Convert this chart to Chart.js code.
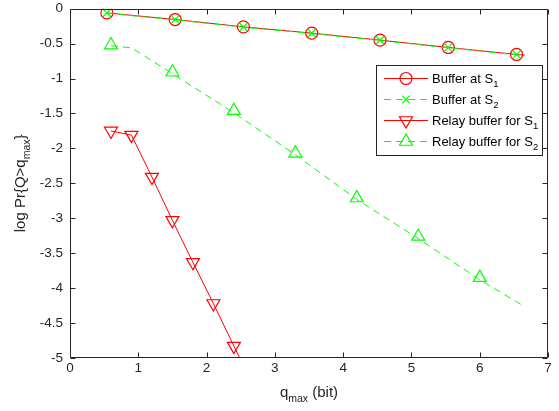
<!DOCTYPE html>
<html>
<head>
<meta charset="utf-8">
<script src="https://cdn.jsdelivr.net/npm/chart.js@4.4.1/dist/chart.umd.min.js"></script>
<style>
  html, body { margin: 0; padding: 0; background: #fff; }
</style>
</head>
<body>
<canvas id="chart" width="559" height="411"></canvas>
<script>
// ---- data ----
const xTicks = [0, 1, 2, 3, 4, 5, 6, 7];
const yTicks = [0, -0.5, -1, -1.5, -2, -2.5, -3, -3.5, -4, -4.5, -5];

// buffer at S1 (red, circles)
const bufS1LineX = [0.54, 1.54, 2.54, 3.54, 4.54, 5.54, 6.54, 6.66];
const bufS1LineY = [-0.06, -0.155, -0.26, -0.35, -0.45, -0.555, -0.655, -0.665];
const bufS1MarkX = [0.54, 1.54, 2.54, 3.54, 4.54, 5.54, 6.54];
const bufS1MarkY = [-0.06, -0.155, -0.26, -0.35, -0.45, -0.555, -0.655];

// buffer at S2 (green dashed, crosses)
const bufS2LineX = [0.54, 1.54, 2.54, 3.54, 4.54, 5.54, 6.54, 6.66];
const bufS2LineY = [-0.065, -0.16, -0.265, -0.355, -0.455, -0.56, -0.66, -0.67];
const bufS2MarkX = [0.54, 1.54, 2.54, 3.54, 4.54, 5.54, 6.54];
const bufS2MarkY = [-0.06, -0.155, -0.26, -0.35, -0.45, -0.555, -0.655];

// relay buffer for S1 (red, down triangles)
const relS1LineX = [0.6, 0.9, 1.2, 1.5, 1.8, 2.1, 2.4, 2.5];
const relS1LineY = [-1.75, -1.81, -2.41, -3.03, -3.63, -4.22, -4.83, -5.03];
const relS1MarkX = [0.6, 0.9, 1.2, 1.5, 1.8, 2.1, 2.4];
const relS1MarkY = [-1.75, -1.81, -2.41, -3.03, -3.63, -4.22, -4.83];

// relay buffer for S2 (green dashed, up triangles)
const relS2LineX = [0.6, 0.9, 1.5, 2.4, 3.3, 4.2, 5.1, 6.0, 6.6];
const relS2LineY = [-0.53, -0.56, -0.93, -1.49, -2.09, -2.73, -3.29, -3.88, -4.23];
const relS2MarkX = [0.6, 1.5, 2.4, 3.3, 4.2, 5.1, 6.0];
const relS2MarkY = [-0.52, -0.91, -1.46, -2.07, -2.71, -3.26, -3.85];

const RED = '#ff0000';
const GREEN = '#00ff00';
const INK = '#262626';
const FONT = '"Liberation Sans", Arial, Helvetica, sans-serif';
const DASH = [7, 5];

function pts(xs, ys) {
  return xs.map((x, i) => ({ x: x, y: ys[i] }));
}

function lineSet(xs, ys, color, dash, order) {
  return {
    data: pts(xs, ys),
    borderColor: color,
    borderWidth: 1,
    borderDash: dash,
    pointRadius: 0,
    fill: false,
    tension: 0,
    order: order
  };
}

function markSet(xs, ys, color, style, radius, rotation, order) {
  return {
    data: pts(xs, ys),
    showLine: false,
    borderColor: color,
    backgroundColor: 'rgba(0,0,0,0)',
    pointStyle: style,
    pointRadius: radius,
    pointRotation: rotation,
    pointBorderWidth: 1.2,
    order: order
  };
}

// box round the plot with inward ticks on all four sides
const boxPlugin = {
  id: 'box',
  afterDraw(chart) {
    const ctx = chart.ctx;
    const a = chart.chartArea;
    const xs = chart.scales.x, ys = chart.scales.y;
    const L = Math.round(a.left) + 0.5, R = Math.round(a.right) - 0.5;
    const T = Math.round(a.top) + 0.5, B = Math.round(a.bottom) - 0.5;
    ctx.save();
    ctx.strokeStyle = INK;
    ctx.lineWidth = 1;
    ctx.beginPath();
    ctx.rect(L, T, R - L, B - T);
    xTicks.forEach(v => {
      const p = Math.round(xs.getPixelForValue(v)) + 0.5;
      ctx.moveTo(p, B); ctx.lineTo(p, B - 5);
      ctx.moveTo(p, T); ctx.lineTo(p, T + 5);
    });
    yTicks.forEach(v => {
      const p = Math.round(ys.getPixelForValue(v)) + 0.5;
      ctx.moveTo(L, p); ctx.lineTo(L + 5, p);
      ctx.moveTo(R, p); ctx.lineTo(R - 5, p);
    });
    ctx.stroke();
    ctx.restore();
  }
};

// draw text with a subscript part, returns width
function subText(ctx, parts, x, y, size, subSize, drop, measureOnly) {
  let w = 0;
  parts.forEach(p => {
    ctx.font = (p.sub ? subSize : size) + 'px ' + FONT;
    if (!measureOnly) ctx.fillText(p.t, x + w, y + (p.sub ? drop : 0));
    w += ctx.measureText(p.t).width;
  });
  return w;
}

const titlePlugin = {
  id: 'titles',
  afterDraw(chart) {
    const ctx = chart.ctx;
    const a = chart.chartArea;
    ctx.save();
    ctx.fillStyle = INK;
    ctx.textBaseline = 'alphabetic';
    ctx.textAlign = 'left';
    const xt = [{ t: 'q' }, { t: 'max', sub: true }, { t: ' (bit)' }];
    const xw = subText(ctx, xt, 0, 0, 15, 10.5, 4.5, true);
    subText(ctx, xt, (a.left + a.right) / 2 - xw / 2, 397, 15, 10.5, 4.5);
    const yt = [{ t: 'log Pr{Q>q' }, { t: 'max', sub: true }, { t: '}' }];
    const yw = subText(ctx, yt, 0, 0, 15, 10.5, 4.5, true);
    ctx.translate(25, (a.top + a.bottom) / 2);
    ctx.rotate(-Math.PI / 2);
    subText(ctx, yt, -yw / 2, 0, 15, 10.5, 4.5);
    ctx.restore();
  }
};

function drawMarker(ctx, kind, x, y) {
  ctx.beginPath();
  if (kind === 'circle') {
    ctx.arc(x, y, 6, 0, Math.PI * 2);
  } else if (kind === 'cross') {
    const d = 3.9;
    ctx.moveTo(x - d, y - d); ctx.lineTo(x + d, y + d);
    ctx.moveTo(x + d, y - d); ctx.lineTo(x - d, y + d);
  } else if (kind === 'down') {
    const r = 7.5;
    ctx.moveTo(x, y + r);
    ctx.lineTo(x - r * 0.866, y - r / 2);
    ctx.lineTo(x + r * 0.866, y - r / 2);
    ctx.closePath();
  } else {
    const r = 7.5;
    ctx.moveTo(x, y - r);
    ctx.lineTo(x - r * 0.866, y + r / 2);
    ctx.lineTo(x + r * 0.866, y + r / 2);
    ctx.closePath();
  }
  ctx.stroke();
}

const legendItems = [
  { label: 'Buffer at S', sub: '1', color: RED, dash: [], marker: 'circle' },
  { label: 'Buffer at S', sub: '2', color: GREEN, dash: DASH, marker: 'cross' },
  { label: 'Relay buffer for S', sub: '1', color: RED, dash: [], marker: 'down' },
  { label: 'Relay buffer for S', sub: '2', color: GREEN, dash: DASH, marker: 'up' }
];

const legendPlugin = {
  id: 'boxLegend',
  afterDraw(chart) {
    const ctx = chart.ctx;
    ctx.save();
    ctx.fillStyle = '#fff';
    ctx.fillRect(376, 65, 166, 90);
    ctx.strokeStyle = INK;
    ctx.lineWidth = 1;
    ctx.strokeRect(376.5, 65.5, 166, 90);
    legendItems.forEach((it, i) => {
      const y = 78 + i * 21;
      ctx.strokeStyle = it.color;
      ctx.lineWidth = 1;
      ctx.setLineDash(it.dash);
      ctx.beginPath();
      ctx.moveTo(384, y + 0.5); ctx.lineTo(428, y + 0.5);
      ctx.stroke();
      ctx.setLineDash([]);
      ctx.lineWidth = 1.2;
      drawMarker(ctx, it.marker, 406, y + 0.5);
      ctx.fillStyle = '#000';
      ctx.textBaseline = 'alphabetic';
      ctx.textAlign = 'left';
      subText(ctx, [{ t: it.label }, { t: it.sub, sub: true }], 432, y + 4.5, 13, 9.5, 4);
    });
    ctx.restore();
  }
};

new Chart(document.getElementById('chart'), {
  type: 'line',
  data: {
    datasets: [
      lineSet(bufS1LineX, bufS1LineY, RED, [], 3),
      markSet(bufS1MarkX, bufS1MarkY, RED, 'circle', 6, 0, 3),
      lineSet(bufS2LineX, bufS2LineY, GREEN, DASH, 1),
      markSet(bufS2MarkX, bufS2MarkY, GREEN, 'crossRot', 5.5, 0, 1),
      lineSet(relS1LineX, relS1LineY, RED, [], 3),
      markSet(relS1MarkX, relS1MarkY, RED, 'triangle', 7.5, 180, 3),
      lineSet(relS2LineX, relS2LineY, GREEN, DASH, 1),
      markSet(relS2MarkX, relS2MarkY, GREEN, 'triangle', 7.5, 0, 1)
    ]
  },
  options: {
    responsive: false,
    animation: false,
    layout: { padding: { top: 6, right: 11, left: 0, bottom: 0 } },
    plugins: {
      legend: { display: false },
      tooltip: { enabled: false }
    },
    scales: {
      x: {
        type: 'linear',
        min: 0, max: 7,
        afterBuildTicks: s => { s.ticks = xTicks.map(v => ({ value: v })); },
        afterFit: s => { s.height = 53; s.paddingLeft = 0; s.paddingRight = 0; },
        grid: { display: false, drawTicks: false },
        border: { display: false },
        ticks: { color: INK, font: { family: FONT, size: 13.5 }, padding: 2, callback: v => String(v) }
      },
      y: {
        type: 'linear',
        min: -5, max: 0,
        afterBuildTicks: s => { s.ticks = yTicks.map(v => ({ value: v })); },
        afterFit: s => { s.width = 70; s.paddingTop = 0; s.paddingBottom = 0; },
        grid: { display: false, drawTicks: false },
        border: { display: false },
        ticks: { color: INK, font: { family: FONT, size: 13.5 }, padding: 7, callback: v => String(v) }
      }
    }
  },
  plugins: [boxPlugin, titlePlugin, legendPlugin]
});
</script>
</body>
</html>
